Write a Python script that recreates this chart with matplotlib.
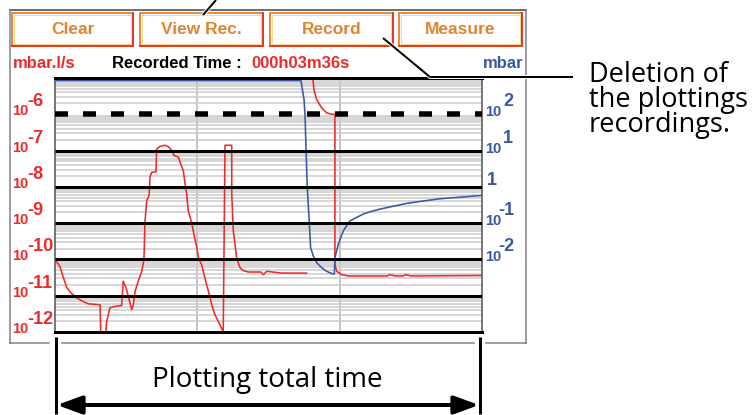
import matplotlib
matplotlib.use("Agg")
import matplotlib.pyplot as plt
import numpy as np
from matplotlib.patches import Rectangle, FancyArrowPatch, ArrowStyle
from matplotlib.ticker import LogLocator, NullFormatter, FixedLocator
from matplotlib.transforms import blended_transform_factory
import matplotlib.patheffects as pe

# ---------------- data ----------------
# time axis in seconds (total recorded time 000h03m36s = 216 s)
t_total = 216
x_grid = [72, 144]

# leak rate (mbar.l/s, left axis) - NaN marks the break in the recording
red_t = [0, 2.5, 4.2, 5.9, 8.4, 11.0, 14.3, 16.8, 22.8, 23.1, 25.8, 26.0, 27.8, 29.5,
         33.7, 34.5, 35.9, 37.1, 38.8, 39.6, 40.5, 42.1, 43.9, 45.0, 45.5, 46.4, 47.6,
         48.1, 48.9, 51.1, 51.4, 53.1, 55.6, 57.3, 59.0, 60.2, 62.4, 63.2, 64.9, 65.8,
         66.6, 67.4, 69.1, 70.3, 71.7, 72.8, 74.2, 75.4, 76.7, 78.1, 79.3, 80.9, 83.5,
         85.1, 86.0, 89.4, 89.4, 90.2, 91.9, 93.6, 95.3, 97.8, 104.2, 105.4, 107.1,
         114.7, 127.3, 128.8,
         130.4, 131.0, 132.4, 134.9, 137.4, 140.0, 141.6, 141.6, 142.5, 145.0, 148.4,
         168.0, 169.5, 172.0, 176.0, 177.5, 180.0, 215.9]
red_v = [1.0e-10, 6.4e-11, 3.2e-11, 1.7e-11, 1.15e-11, 8.7e-12, 6.9e-12, 6.0e-12, 5.6e-12,
         1.0e-12, 1.0e-12, 1.8e-12, 4.6e-12, 5.0e-12, 5.4e-12, 2.5e-11, 1.7e-11, 9.5e-12,
         4.1e-12, 5.6e-12, 1.3e-11, 2.5e-11, 4.7e-11, 1.0e-10, 1.07e-9, 4.2e-9, 5.8e-9,
         1.9e-8, 2.5e-8, 2.6e-8, 1.1e-7, 1.3e-7, 1.4e-7, 1.3e-7, 1.0e-7, 7.4e-8, 6.6e-8,
         4.9e-8, 2.8e-8, 1.2e-8, 6.4e-9, 2.2e-9, 1.05e-9, 4.9e-10, 2.1e-10, 1.0e-10,
         7.2e-11, 3.8e-11, 2.0e-11, 1.07e-11, 5.6e-12, 3.0e-12, 1.56e-12, 1.0e-12,
         1.4e-7, 1.4e-7, 6.4e-9, 6.2e-10, 1.1e-10, 5.9e-11, 4.9e-11, 4.5e-11, 4.5e-11,
         3.8e-11, 4.7e-11, 4.2e-11, 4.2e-11, np.nan,
         1.0e-5, 4.7e-6, 2.5e-6, 1.5e-6, 1.1e-6, 1.0e-6, 1.0e-6, 7.2e-11, 4.7e-11,
         3.8e-11, 3.5e-11, 3.5e-11, 3.8e-11, 3.5e-11, 3.5e-11, 3.8e-11, 3.5e-11, 3.6e-11]

# pressure (mbar, right axis)
blue_t = [0, 124.4, 126.0, 126.5, 127.0, 127.6, 128.6, 129.3, 130.7, 132.4, 134.9, 137.4,
          140.5, 141.3, 141.6, 143.3, 145.8, 149.2, 152.6, 156.0, 159.3, 164.4, 169.5,
          177.9, 188.0, 194.8, 204.9, 215.9]
blue_v = [850, 850, 250, 87, 10.2, 0.98, 0.115, 0.021, 0.0123, 0.0081, 0.0059, 0.0047,
          0.0040, 0.0040, 0.0113, 0.026, 0.061, 0.115, 0.144, 0.178, 0.205, 0.244, 0.28,
          0.35, 0.42, 0.47, 0.52, 0.58]

left_exps = [-12, -11, -10, -9, -8, -7, -6]
right_exps = [-2, -1, 0, 1, 2]
buttons = ["Clear", "View Rec.", "Record", "Measure"]
unit_left = "mbar.l/s"
unit_right = "mbar"
rec_label = "Recorded Time :"
rec_time = "000h03m36s"
note_delete = "Deletion of\nthe plottings\nrecordings."
note_total = "Plotting total time"

# ---------------- style ----------------
W, H, DPI = 752, 415, 100
PX = 72.0 / DPI
RED = "#EE2A2A"
BLUE = "#3A56A6"
ORANGE = "#E2842E"
UI = ["Liberation Sans", "DejaVu Sans"]
NOTE = ["Open Sans", "DejaVu Sans"]

fig = plt.figure(figsize=(W / DPI, H / DPI), dpi=DPI)
fig.patch.set_facecolor("white")

L, R, T, B = 55, 482, 78, 332
ax = fig.add_axes([L / W, 1 - B / H, (R - L) / W, (B - T) / H])
ax.set_yscale("log")
ax.set_ylim(1e-12, 1e-5)
ax.set_xlim(0, t_total)
ax.yaxis.set_major_locator(FixedLocator([]))
ax.yaxis.set_minor_locator(LogLocator(base=10, subs=np.arange(2, 10), numticks=30))
ax.yaxis.set_minor_formatter(NullFormatter())
ax.grid(which="minor", axis="y", color="#CBCBCB", lw=1.5 * PX)
ax.set_xticks(x_grid)
ax.grid(which="major", axis="x", color="#C4C4C4", lw=2 * PX)
ax.tick_params(which="both", length=0, labelbottom=False, labelleft=False)
for s in ax.spines.values():
    s.set_visible(False)
ax.plot(red_t, red_v, color=RED, lw=1.6 * PX, zorder=2)

ax2 = ax.twinx()
ax2.set_yscale("log")
ax2.set_ylim(1e-4, 1e3)
ax2.yaxis.set_major_locator(FixedLocator([]))
ax2.yaxis.set_minor_locator(FixedLocator([]))
ax2.tick_params(which="both", length=0, labelright=False)
ax2.plot(blue_t, blue_v, color=BLUE, lw=1.6 * PX, zorder=2)

# decade lines drawn on top of the curves
tr = blended_transform_factory(ax2.transAxes, ax.transData)
for e in left_exps[1:-1]:
    ax2.plot([0, 1], [10.0 ** e, 10.0 ** e], transform=tr, color="black",
             lw=3 * PX, zorder=3, solid_capstyle="butt")
lw_d = 5.5 * PX
ax2.plot([0, 1], [1e-6, 1e-6], transform=tr, color="black", lw=lw_d, zorder=3,
         dashes=(13 * PX / lw_d, 15 * PX / lw_d), dash_capstyle="butt")
for side in ("top", "bottom"):
    ax2.spines[side].set_color("black")
    ax2.spines[side].set_linewidth(3 * PX)
for side in ("left", "right"):
    ax2.spines[side].set_color("#5A5A5A")
    ax2.spines[side].set_linewidth(1.6 * PX)

# axis labels (10 + exponent)
lab = dict(fontweight="bold", family=UI, ha="left", va="baseline",
           textcoords="offset pixels")
for e in left_exps:
    xy = (0, 10.0 ** e)
    ax.annotate("10", xy=xy, xycoords=("axes fraction", "data"), xytext=(-43, -1),
                color=RED, fontsize=10.5, **lab)
    ax.annotate("-" + str(abs(e)), xy=xy, xycoords=("axes fraction", "data"),
                xytext=(-28, 8), color=RED, fontsize=13, **lab)

for e in right_exps:
    xy = (1, 10.0 ** e)
    if e == 0:
        ax2.annotate("1", xy=xy, xycoords=("axes fraction", "data"), xytext=(5, 2),
                     color=BLUE, fontsize=13, **lab)
        continue
    ax2.annotate("10", xy=xy, xycoords=("axes fraction", "data"), xytext=(3, -2),
                 color=BLUE, fontsize=10.5, **lab)
    txt = ("-" if e < 0 else "") + str(abs(e))
    ax2.annotate(txt, xy=xy, xycoords=("axes fraction", "data"),
                 xytext=(16 if e < 0 else 21, 8), color=BLUE, fontsize=13, **lab)

# ---------------- overlay in pixel coordinates ----------------
ov = fig.add_axes([0, 0, 1, 1], zorder=5)
ov.set_xlim(0, W)
ov.set_ylim(H, 0)
ov.axis("off")
ov.patch.set_alpha(0)

FR = "#808080"
ov.plot([10, 526], [10, 10], color="#404040", lw=1.5 * PX)
ov.plot([10, 10], [10, 343], color=FR, lw=1.5 * PX)
ov.plot([526, 526], [10, 343], color=FR, lw=1.5 * PX)
for a, b in [(10, 49), (62, 474), (486, 526)]:
    ov.plot([a, b], [343, 343], color=FR, lw=1.5 * PX)

bx = [(12, 133), (140, 263), (270, 393), (399, 522)]
for name, (x0, x1) in zip(buttons, bx):
    y0, y1 = 13, 46
    ov.add_patch(Rectangle((x0, y0), x1 - x0, y1 - y0, fill=False,
                           edgecolor="#EE8A3A", lw=2 * PX))
    ov.plot([x0, x1, x1], [y1, y1, y0], color="#E23A26", lw=2 * PX)
    ov.add_patch(Rectangle((x0 + 2, y0 + 2), x1 - x0 - 4, y1 - y0 - 4, fill=False,
                           edgecolor="#F6D890", lw=1 * PX))
    ov.text((x0 + x1) / 2, 30, name, color=ORANGE, fontsize=12.5, fontweight="bold",
            family=UI, ha="center", va="center")

hdr = dict(fontsize=12, fontweight="bold", family=UI, va="center")
ov.text(13, 64, unit_left, color=RED, ha="left", **hdr)
ov.text(112, 64, rec_label, color="black", ha="left", **hdr)
ov.text(251, 64, rec_time, color=RED, ha="left", **hdr)
ov.text(523, 64, unit_right, color=BLUE, ha="right", **hdr)

halo = [pe.Stroke(linewidth=4 * PX, foreground="white"), pe.Normal()]
ov.plot([216, 203], [0, 15], color="black", lw=2 * PX, path_effects=halo,
        solid_capstyle="butt")
ov.plot([383, 430, 573], [38, 77, 77], color="black", lw=2 * PX, path_effects=halo,
        solid_capstyle="butt")
ov.text(589, 61, note_delete, color="black", fontsize=19.5, family=NOTE,
        ha="left", va="top", linespacing=0.86)

for xv in (56, 480):
    ov.plot([xv, xv], [337, 414], color="black", lw=3 * PX, solid_capstyle="butt")
arr = FancyArrowPatch((57, 405), (479, 405),
                      arrowstyle=ArrowStyle("<|-|>", head_length=1.5, head_width=0.55),
                      mutation_scale=10, color="black", lw=4 * PX,
                      shrinkA=0, shrinkB=0)
ov.add_patch(arr)
ov.text(267, 380, note_total, color="black", fontsize=20, family=NOTE,
        ha="center", va="center")

fig.savefig("out.png", dpi=DPI, facecolor="white")
